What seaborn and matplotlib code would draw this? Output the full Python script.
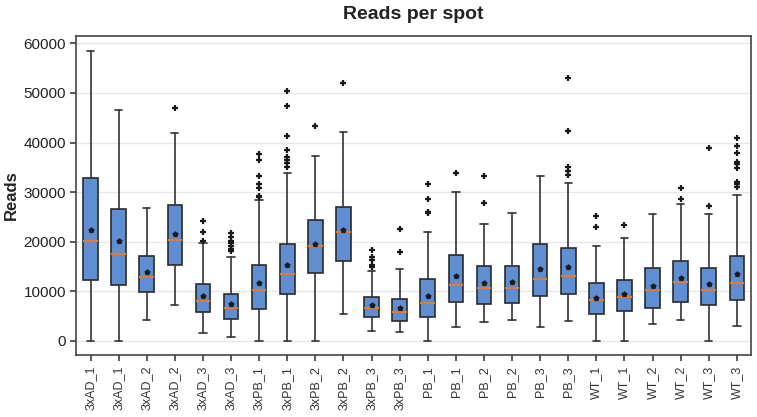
import matplotlib
matplotlib.use("Agg")
import matplotlib.pyplot as plt
import seaborn as sns
import pandas as pd

# Sample labels (two sections per sample)
samples = ["3xAD_1", "3xAD_1", "3xAD_2", "3xAD_2", "3xAD_3", "3xAD_3",
           "3xPB_1", "3xPB_1", "3xPB_2", "3xPB_2", "3xPB_3", "3xPB_3",
           "PB_1", "PB_1", "PB_2", "PB_2", "PB_3", "PB_3",
           "WT_1", "WT_1", "WT_2", "WT_2", "WT_3", "WT_3"]

# Box statistics of reads per spot
whisker_low = [0, 0, 4230, 7250, 1680, 810,
               0, 0, 0, 5500, 1950, 1870,
               0, 2880, 3830, 4290, 2880, 4090,
               0, 0, 3490, 4230, 0, 3020]
q1 = [12290, 11280, 9870, 15380, 5910, 4370,
      6390, 9410, 13770, 16050, 4770, 4090,
      4900, 7800, 7460, 7660, 9130, 9410,
      5440, 6110, 6650, 7800, 7310, 8260]
median = [20150, 17530, 12900, 20350, 8130, 6580,
          10220, 13500, 19140, 21900, 6710, 5780,
          7600, 11340, 10740, 10620, 12430, 13100,
          8200, 8930, 10220, 11890, 10340, 11750]
q3 = [32900, 26600, 17190, 27340, 11420, 9470,
      15250, 19480, 24380, 27070, 8800, 8520,
      12430, 17270, 15170, 15110, 19480, 18680,
      11690, 12350, 14650, 16120, 14650, 17190]
whisker_high = [58500, 46600, 26860, 41900, 19800, 16930,
                28350, 33850, 37280, 42180, 14170, 14510,
                21900, 30080, 23580, 25790, 33310, 31900,
                19200, 20690, 25590, 27670, 25530, 29360]
means = [22370, 20090, 13840, 21500, 9000, 7450,
         11620, 15310, 19610, 22300, 7250, 6580,
         9130, 13100, 11690, 11830, 14510, 14910,
         8730, 9410, 11080, 12690, 11490, 13500]
outliers = [
    [], [], [], [46950],
    [24240, 21960, 20150],
    [21700, 20900, 20090, 19680, 19140, 18500, 18300, 18200],
    [37680, 36540, 33250, 31700, 30890, 29220, 29000],
    [50440, 47290, 41300, 38490, 37140, 36470, 35800, 35120],
    [43320], [51920],
    [18270, 16860, 16320, 15310, 14970],
    [22500, 17870],
    [31640, 28610, 25930, 25800],
    [33850],
    [33250, 27810],
    [], [],
    [53060, 42320, 35000, 34250, 33450],
    [25120, 22910],
    [23370],
    [],
    [30770, 28610],
    [38890, 27200],
    [40900, 39350, 37940, 36070, 35700, 34800, 31980, 31570, 31090],
]

sns.set_theme(style="whitegrid")
plt.rcParams["font.family"] = ["Liberation Sans", "DejaVu Sans"]

fig, ax = plt.subplots(figsize=(7.57, 4.17), dpi=100)
fig.subplots_adjust(left=0.101, right=0.992, top=0.914, bottom=0.149)

stats = []
for i, name in enumerate(samples):
    stats.append(dict(label=name, whislo=whisker_low[i], q1=q1[i], med=median[i],
                      q3=q3[i], whishi=whisker_high[i], mean=means[i],
                      fliers=outliers[i]))

positions = list(range(len(samples)))
ax.bxp(stats, positions=positions, widths=0.52, patch_artist=True,
       showmeans=False, showfliers=True,
       boxprops=dict(facecolor="#5f8fd2", edgecolor="#2b2b2b", linewidth=1.2),
       medianprops=dict(color="#e8782a", linewidth=1.5),
       whiskerprops=dict(color="#333333", linewidth=1.2),
       capprops=dict(color="#333333", linewidth=1.2),
       flierprops=dict(marker="+", markersize=5, markeredgewidth=1.6,
                       markeredgecolor="#1a1a1a", linestyle="none"))

mean_df = pd.DataFrame({"pos": positions, "mean": means})
sns.scatterplot(data=mean_df, x="pos", y="mean", ax=ax, marker="p", s=18,
                color="#1a1a1a", edgecolor="#1a1a1a", zorder=5, legend=False)

ax.set_xlim(-0.5, len(samples) - 0.5)
ax.set_ylim(-2800, 61500)
ax.set_yticks([0, 10000, 20000, 30000, 40000, 50000, 60000])
ax.set_xticks(positions)
ax.set_xticklabels(samples, rotation=90, fontsize=9, color="#333333")
ax.tick_params(axis="y", labelsize=11, labelcolor="#222222", length=4,
               color="#444444", left=True)
ax.tick_params(axis="x", length=4, color="#444444", bottom=True, pad=4)
ax.grid(axis="x", visible=False)
ax.grid(axis="y", color="#e6e6e6", linewidth=1.0)
ax.set_axisbelow(True)
for spine in ax.spines.values():
    spine.set_color("#444444")
    spine.set_linewidth(1.2)

ax.set_xlabel("")
ax.set_ylabel("Reads", fontsize=12, fontweight="bold", color="#222222", labelpad=3)
ax.set_title("Reads per spot", fontsize=14, fontweight="bold", color="#222222", pad=12)

fig.savefig("out.png", dpi=100, facecolor="white")
